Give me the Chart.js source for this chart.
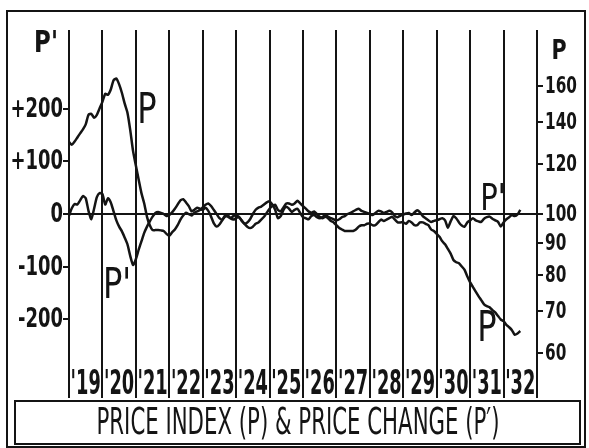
<!DOCTYPE html>
<html>
<head>
<meta charset="utf-8">
<script src="https://cdn.jsdelivr.net/npm/chart.js@4.4.1/dist/chart.umd.min.js"></script>
<style>
  html, body { margin: 0; padding: 0; background: #fff; }
  canvas { display: block; }
</style>
</head>
<body>
<canvas id="priceChart" width="589" height="448"></canvas>
<script>
// monthly series, first point Jan 1919
const startYear = 1919;
const endYear = 1933;
const yearLabels = ["'19", "'20", "'21", "'22", "'23", "'24", "'25", "'26", "'27", "'28", "'29", "'30", "'31", "'32"];
const changeTicks = [-200, -100, 0, 100, 200];
const changeTickLabels = ['-200', '-100', '0', '+100', '+200'];
const indexTicks = [60, 70, 80, 90, 100, 120, 140, 160];

// P, price index (right log axis)
const priceIndex = [
    130.3, 129, 130.5, 132.5, 134.5, 136.5, 139, 144, 144.5, 142.5, 144, 147.5,
    151, 155.5, 155, 158, 163.5, 164.5, 161, 156, 150, 145, 136, 126,
    119.5, 113.5, 108, 104, 99, 96, 94.3, 94.3, 94.3, 94.2, 94, 93,
    92.3, 93.5, 94.5, 96, 98, 99.5, 100.5, 100, 99.5, 100.5, 101, 101.5,
    102.5, 103.5, 104, 103, 101.5, 100, 98.5, 98, 99, 99.5, 98.5, 98,
    98.5, 99, 97.5, 96.5, 95.5, 95, 95.5, 96.5, 97, 98, 99, 100.5,
    102, 103, 103.5, 101.5, 101, 102.5, 104, 104, 103.5, 104, 105, 104,
    103, 102, 101, 100.5, 101, 100, 99, 98.5, 99, 98.5, 97.5, 97,
    96, 95, 94.5, 94, 94, 94, 94, 94.5, 95.5, 96, 96, 96.5,
    96.5, 96, 96, 97, 98, 97.5, 98, 98.5, 99, 98, 97, 97,
    97, 96.5, 97.5, 97, 96, 96, 97, 97, 96.5, 96, 94.5, 94,
    93, 92, 90.5, 89.5, 88, 86.5, 84.5, 83.8, 83.5, 82.5, 81.5, 79.5,
    77.8, 76.5, 75.2, 74, 72.9, 71.8, 71.3, 71, 70.3, 69.7, 68.8, 67.9,
    67.5, 66.6, 66.0, 65.3, 64.2, 64.5, 65.1
];

// P', price change (left axis)
const priceChange = [
    -3, 11, 19, 18, 26, 34, 30, 6, -10, 10, 32, 40,
    38, 18, 30, 22, 5, -12, -24, -33, -45, -58, -80, -97,
    -86, -68, -52, -36, -24, -14, -5, 2, 4, 2, 0, -4,
    -2, 3, 10, 18, 26, 28, 22, 15, 5, 8, 12, 10,
    8, 12, 6, -5, -18, -24, -20, -12, -3, -5, -8, -4,
    -2, -6, -12, -18, -16, -10, 0, 8, 12, 14, 18, 22,
    24, 18, 8, -8, -4, 8, 14, 10, 4, 8, 10, 2,
    -6, -8, -10, -4, -2, -6, -8, -6, -2, -5, -8, -10,
    -12, -10, -6, -4, 0, 2, 5, 8, 10, 6, 4, 2,
    0, -2, 2, 6, 5, 2, 4, 6, 3, -4, -6, -3,
    -1, 1, 2, -2, 3, 7, 3, -4, -8, -12, -15, -13,
    -12, -10, -8, -12, -26, -14, -4, -8, -16, -22, -24, -16,
    -12, -8, -12, -14, -15, -9, -6, -5, -9, -12, -15, -24,
    -16, -10, -6, -2, -4, -1, 8
];

const INK = '#141414';
const NARROW = '"DejaVu Sans Condensed", "Liberation Sans Narrow", sans-serif';

function toPoints(values) {
    return values.map((v, i) => ({ x: startYear + i / 12, y: v }));
}

function drawNarrow(ctx, text, cx, cy, font, sx, align) {
    ctx.save();
    ctx.translate(cx, cy);
    ctx.scale(sx, 1);
    ctx.font = font + ' ' + NARROW;
    ctx.textAlign = align || 'center';
    ctx.textBaseline = 'middle';
    ctx.fillText(text, 0, 0);
    ctx.restore();
}

const decorations = {
    id: 'decorations',
    afterDraw(chart) {
        const ctx = chart.ctx;
        const { x, yChange, yIndex } = chart.scales;
        ctx.save();
        ctx.fillStyle = INK;
        ctx.strokeStyle = INK;

        // tick labels, squeezed like the original lettering
        changeTicks.forEach((v, i) => {
            drawNarrow(ctx, changeTickLabels[i], yChange.right - 6, yChange.getPixelForValue(v) + 1, 'bold 27px', 0.74, 'right');
        });
        indexTicks.forEach(v => {
            drawNarrow(ctx, String(v), yIndex.left + 8, yIndex.getPixelForValue(v) + 1, 'bold 23px', 0.74, 'left');
        });
        yearLabels.forEach((label, i) => {
            drawNarrow(ctx, label, x.getPixelForValue(startYear + i + 0.5), 385, 'bold 33px', 0.6);
        });

        // axis names
        drawNarrow(ctx, "P'", 46, 44, 'bold 30px', 0.85);
        drawNarrow(ctx, 'P', 559, 52, 'bold 27px', 0.85);

        // curve labels
        drawNarrow(ctx, 'P', 147, 112, '42px', 0.85);
        drawNarrow(ctx, "P'", 117, 287, '42px', 0.85);
        drawNarrow(ctx, "P'", 493, 200, '38px', 0.85);
        drawNarrow(ctx, 'P', 487, 330, '42px', 0.85);

        // frame and title box
        ctx.lineWidth = 2;
        ctx.strokeRect(7, 11, 578, 436);
        ctx.strokeRect(15, 401, 565, 43);

        const title = 'PRICE INDEX (P) & PRICE CHANGE (P\u2032)';
        ctx.font = '38px ' + NARROW;
        const w = ctx.measureText(title).width;
        drawNarrow(ctx, title, 298, 424, '38px', 403 / w);
        ctx.restore();
    }
};

const ctx = document.getElementById('priceChart').getContext('2d');
new Chart(ctx, {
    type: 'line',
    data: {
        datasets: [
            {
                label: 'P',
                data: toPoints(priceIndex),
                yAxisID: 'yIndex',
                borderColor: INK,
                borderWidth: 2.5,
                pointRadius: 0,
                tension: 0.2
            },
            {
                label: "P'",
                data: toPoints(priceChange),
                yAxisID: 'yChange',
                borderColor: INK,
                borderWidth: 2.5,
                pointRadius: 0,
                tension: 0.2
            }
        ]
    },
    options: {
        responsive: false,
        animation: false,
        devicePixelRatio: 1,
        layout: { padding: { left: 0, right: 0, top: 30, bottom: 50 } },
        plugins: {
            legend: { display: false },
            tooltip: { enabled: false }
        },
        scales: {
            x: {
                type: 'linear',
                min: startYear,
                max: endYear,
                ticks: { display: false, stepSize: 1 },
                grid: { color: INK, lineWidth: 2, drawTicks: false },
                border: { display: false },
                afterFit: scale => { scale.height = 0; }
            },
            yChange: {
                position: 'left',
                min: -350,
                max: 350,
                afterBuildTicks: scale => {
                    scale.ticks = changeTicks.map(v => ({ value: v }));
                },
                ticks: {
                    color: 'rgba(0,0,0,0)',
                    font: { family: NARROW, size: 20 },
                    callback: v => changeTickLabels[changeTicks.indexOf(v)]
                },
                grid: {
                    color: c => (c.tick && c.tick.value === 0) ? INK : 'rgba(0,0,0,0)',
                    tickColor: INK,
                    lineWidth: 2,
                    tickLength: 6
                },
                border: { display: false },
                afterFit: scale => { scale.width = 69; }
            },
            yIndex: {
                type: 'logarithmic',
                position: 'right',
                min: 50.9,
                max: 196.6,
                afterBuildTicks: scale => {
                    scale.ticks = indexTicks.map(v => ({ value: v }));
                },
                ticks: {
                    color: 'rgba(0,0,0,0)',
                    font: { family: NARROW, size: 18 },
                    callback: v => String(v)
                },
                grid: {
                    drawOnChartArea: false,
                    tickColor: INK,
                    lineWidth: 2,
                    tickLength: 6
                },
                border: { display: false },
                afterFit: scale => { scale.width = 52; }
            }
        }
    },
    plugins: [decorations]
});
</script>
</body>
</html>
